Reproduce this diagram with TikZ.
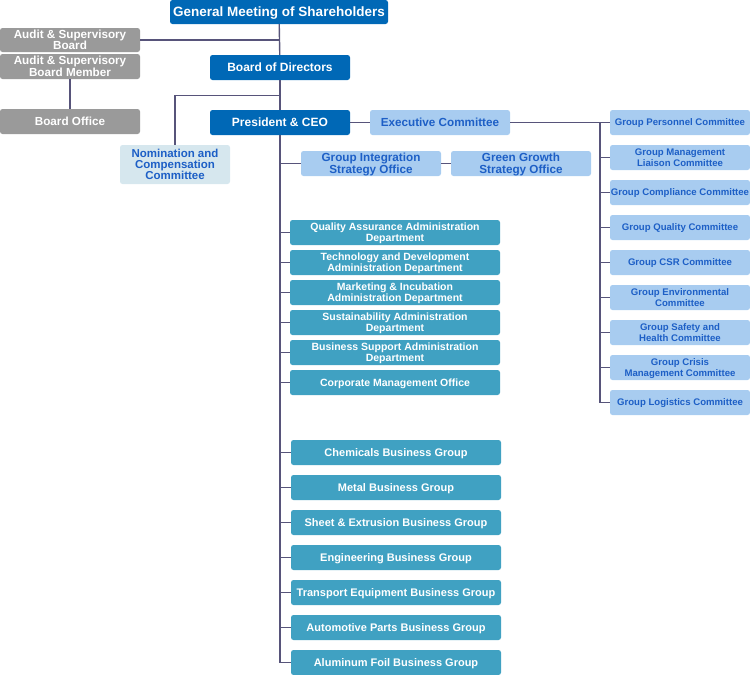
\documentclass[tikz,border=0pt]{standalone}
\usepackage{fontspec}
\setmainfont{Liberation Sans}
\usepackage{tikz}
\usetikzlibrary{positioning, calc}
\definecolor{topblue}{HTML}{0068B6}
\definecolor{paleblue}{HTML}{A8CCF0}
\definecolor{navytext}{HTML}{1D5FC6}
\definecolor{greybox}{HTML}{9A9A9A}
\definecolor{tealbox}{HTML}{40A1C2}
\definecolor{nomfill}{HTML}{D6E7EE}
\definecolor{linkline}{HTML}{57547A}
\tikzstyle{top} = [rectangle, rounded corners=2.5pt, fill=topblue, text=white, font=\bfseries\fontsize{12}{11.5}\selectfont, minimum width=140pt, minimum height=25pt, inner sep=0pt, text depth=0pt, align=center]
\tikzstyle{audit} = [rectangle, rounded corners=2.5pt, fill=greybox, text=white, font=\bfseries\fontsize{11.7}{11.5}\selectfont, minimum width=140pt, minimum height=25pt, inner sep=0pt, text depth=0pt, align=center]
\tikzstyle{staff} = [rectangle, rounded corners=2.5pt, fill=paleblue, text=navytext, font=\bfseries\fontsize{11.7}{11.5}\selectfont, minimum width=140pt, minimum height=25pt, inner sep=0pt, text depth=0pt, align=center]
\tikzstyle{cmte} = [rectangle, rounded corners=2.5pt, fill=paleblue, text=navytext, font=\bfseries\fontsize{9.6}{11}\selectfont, minimum width=140pt, minimum height=25pt, inner sep=0pt, text depth=0pt, align=center]
\tikzstyle{dept} = [rectangle, rounded corners=2.5pt, fill=tealbox, text=white, font=\bfseries\fontsize{10.5}{11.3}\selectfont, minimum width=210pt, minimum height=25pt, inner sep=0pt, text depth=0pt, align=center]
\tikzstyle{bizgroup} = [rectangle, rounded corners=2.5pt, fill=tealbox, text=white, font=\bfseries\fontsize{11}{11}\selectfont, minimum width=210pt, minimum height=25pt, inner sep=0pt, text depth=0pt, align=center]
\tikzstyle{link} = [linkline, line width=1.4pt]

\begin{document}
\begin{tikzpicture}[x=1pt, y=-1pt]
    \useasboundingbox (0,0) rectangle (750,675);

    % Governance
    \node (gms) [top, minimum width=218pt, minimum height=24pt, font=\bfseries\fontsize{13.5}{13}\selectfont] at (279,12) {General Meeting of Shareholders};
    \node (board) [top] at (280,67.5) {Board of Directors};
    \node (ceo) [top] at (280,122.5) {President \& CEO};
    \node (asb) [audit, minimum height=24pt] at (70,40) {Audit \& Supervisory\\Board};
    \node (asbm) [audit] at (70,66.5) {Audit \& Supervisory\\Board Member};
    \node (boffice) [audit] at (70,121.5) {Board Office};
    \node (nomcomp) [staff, fill=nomfill, minimum width=110pt, minimum height=39pt, font=\bfseries\fontsize{11.5}{11}\selectfont] at (175,164.5) {Nomination and\\Compensation\\Committee};
    \coordinate (nomjoin) at (280,95.5);

    % Executive committee and its groups
    \node (execc) [staff] at (440,122.5) {Executive Committee};
    \node (gis) [staff] at (371,163.5) {Group Integration\\Strategy Office};
    \node (ggs) [staff] at (521,163.5) {Green Growth\\Strategy Office};
    \coordinate (cmtrunk) at (600,122.5);
    \node (personnel) [cmte] at (680,122.5) {Group Personnel Committee};
    \node (liaison) [cmte] at (680,157.5) {Group Management\\Liaison Committee};
    \node (compliance) [cmte] at (680,192.5) {Group Compliance Committee};
    \node (quality) [cmte] at (680,227.5) {Group Quality Committee};
    \node (csr) [cmte] at (680,262.5) {Group CSR Committee};
    \node (environ) [cmte] at (680,297.5) {Group Environmental\\Committee};
    \node (safety) [cmte] at (680,332.5) {Group Safety and\\Health Committee};
    \node (crisis) [cmte] at (680,367.5) {Group Crisis\\Management Committee};
    \node (logistics) [cmte] at (680,402.5) {Group Logistics Committee};

    % Administration departments
    \node (qad) [dept] at (395,232.5) {Quality Assurance Administration\\Department};
    \node (tdad) [dept] at (395,262.5) {Technology and Development\\Administration Department};
    \node (miad) [dept] at (395,292.5) {Marketing \& Incubation\\Administration Department};
    \node (sad) [dept] at (395,322.5) {Sustainability Administration\\Department};
    \node (bsad) [dept] at (395,352.5) {Business Support Administration\\Department};
    \node (cmo) [dept] at (395,382.5) {Corporate Management Office};

    % Business groups
    \node (chem) [bizgroup] at (396,452.5) {Chemicals Business Group};
    \node (metal) [bizgroup] at (396,487.5) {Metal Business Group};
    \node (sheet) [bizgroup] at (396,522.5) {Sheet \& Extrusion Business Group};
    \node (eng) [bizgroup] at (396,557.5) {Engineering Business Group};
    \node (transp) [bizgroup] at (396,592.5) {Transport Equipment Business Group};
    \node (autop) [bizgroup] at (396,627.5) {Automotive Parts Business Group};
    \node (foil) [bizgroup] at (396,662.5) {Aluminum Foil Business Group};

    % Lines
    \draw [link] (gms) -- (board);
    \draw [link] (board) -- (ceo);
    \draw [link] (asb.east) -- (asb.east -| gms.south);
    \draw [link] (asbm) -- (boffice);
    \draw [link] (nomcomp.north) |- (nomjoin);
    \draw [link] (ceo) -- (execc);
    \draw [link] (execc) -- (personnel);
    \draw [link] (cmtrunk) |- (logistics.west);
    \draw [link] (cmtrunk |- liaison.west) -- (liaison.west);
    \draw [link] (cmtrunk |- compliance.west) -- (compliance.west);
    \draw [link] (cmtrunk |- quality.west) -- (quality.west);
    \draw [link] (cmtrunk |- csr.west) -- (csr.west);
    \draw [link] (cmtrunk |- environ.west) -- (environ.west);
    \draw [link] (cmtrunk |- safety.west) -- (safety.west);
    \draw [link] (cmtrunk |- crisis.west) -- (crisis.west);
    \draw [link] (ceo.south) |- (foil.west);
    \draw [link] (ceo.south |- gis.west) -- (gis.west);
    \draw [link] (gis) -- (ggs);
    \draw [link] (ceo.south |- qad.west) -- (qad.west);
    \draw [link] (ceo.south |- tdad.west) -- (tdad.west);
    \draw [link] (ceo.south |- miad.west) -- (miad.west);
    \draw [link] (ceo.south |- sad.west) -- (sad.west);
    \draw [link] (ceo.south |- bsad.west) -- (bsad.west);
    \draw [link] (ceo.south |- cmo.west) -- (cmo.west);
    \draw [link] (ceo.south |- chem.west) -- (chem.west);
    \draw [link] (ceo.south |- metal.west) -- (metal.west);
    \draw [link] (ceo.south |- sheet.west) -- (sheet.west);
    \draw [link] (ceo.south |- eng.west) -- (eng.west);
    \draw [link] (ceo.south |- transp.west) -- (transp.west);
    \draw [link] (ceo.south |- autop.west) -- (autop.west);

\end{tikzpicture}
\end{document}
